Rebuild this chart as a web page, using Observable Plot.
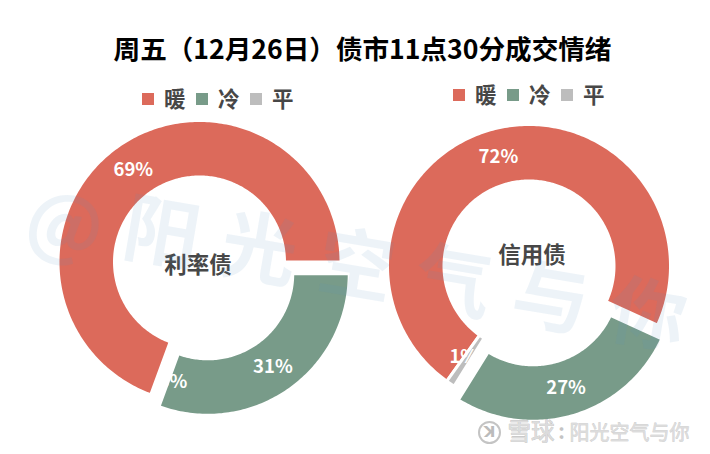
<!DOCTYPE html>
<html><head><meta charset="utf-8">
<script src="https://cdn.jsdelivr.net/npm/d3@7"></script>
<script src="https://cdn.jsdelivr.net/npm/@observablehq/plot@0.6"></script>
<style>
html,body{margin:0;padding:0;background:#fff;width:710px;height:454px;overflow:hidden}
#page{position:relative;width:710px;height:454px;font-family:"Noto Sans CJK SC","Noto Sans",sans-serif}
#title{position:absolute;left:0;top:29px;width:725px;text-align:center;font-size:26.6px;line-height:38px;font-weight:700;color:#000;white-space:nowrap;z-index:2}
.legend{position:absolute;display:flex;align-items:center;font-weight:700;font-size:21.5px;line-height:24px;color:#474747;z-index:2}
.legend i{display:block;width:12px;height:12px;margin-right:10px}
.legend span{display:block;width:21px;margin-right:11px;margin-top:-2px}
svg{position:absolute;left:0;top:0;background:transparent}
</style></head><body><div id="page"><div id="title"></div></div>
<script>
const chartTitle = "周五（12月26日）债市11点30分成交情绪";
const categories = ["暖", "冷", "平"];
const colors = ["#DC6A5B", "#789B89", "#BDBDBD"];
const rateName = "利率债";
const rateShares = [69.4, 30.6, 0];
const creditName = "信用债";
const creditShares = [72, 27, 1];
const watermark = ["@", "阳", "光", "空", "气", "与", "你"];
const creditBrand = "雪球";
const creditColon = ":";
const creditAuthor = "阳光空气与你";

const OUTER = 141.5, INNER = 85, LABEL_R = 113, EXPLODE = 14.4;
const rad = d => d * Math.PI / 180;

// Turn shares into clockwise slices, starting at startAngle (degrees from 12 o'clock).
function slices(name, shares, cx, cy, startAngle) {
  let a = startAngle;
  return shares.map((v, i) => {
    const a0 = a, a1 = a + v * 3.6;
    a = a1;
    const mid = (a0 + a1) / 2;
    const off = categories[i] === "冷" ? EXPLODE : 0;
    return {name, cat: categories[i], share: v, a0, a1, mid,
      cx: cx + off * Math.sin(rad(mid)), cy: cy - off * Math.cos(rad(mid))};
  });
}
function ringPoints(s) {
  const n = Math.max(1, Math.ceil(s.a1 - s.a0));
  return d3.range(n + 1).map(k => {
    const t = rad(s.a0 + (s.a1 - s.a0) * k / n);
    return {key: s.name + s.cat, cat: s.cat,
      ox: s.cx + OUTER * Math.sin(t), oy: s.cy - OUTER * Math.cos(t),
      ix: s.cx + INNER * Math.sin(t), iy: s.cy - INNER * Math.cos(t)};
  });
}
const rate = slices(rateName, rateShares, 199.5, 262, 200.16);
const cred = slices(creditName, creditShares, 529, 266, 215.5);
const all = [...rate, ...cred];
const pts = all.filter(s => s.share > 0).flatMap(ringPoints);
const lab = s => ({x: s.cx + LABEL_R * Math.sin(rad(s.mid)), y: s.cy - LABEL_R * Math.cos(rad(s.mid)), text: Math.round(s.share) + "%", share: s.share});
const big = all.filter(s => s.share >= 50).map(lab);
const mid = all.filter(s => s.share >= 5 && s.share < 50).map(lab);
const tiny = all.filter(s => s.share < 5).map(s => ({...lab(s), zero: s.share === 0}));
const FONT = '"Noto Sans CJK SC","Noto Sans",sans-serif';
const labelStyle = {x: "x", y: "y", text: "text", fill: "#fff", fontSize: 18.5, fontWeight: 700, fontFamily: FONT};

const chart = Plot.plot({
  width: 710, height: 454, margin: 0,
  x: {domain: [0, 710], range: [0, 710], axis: null},
  y: {domain: [0, 454], range: [0, 454], axis: null},
  color: {domain: categories, range: colors},
  marks: [
    Plot.area(pts, {x1: "ox", y1: "oy", x2: "ix", y2: "iy", z: "key", fill: "cat", stroke: "#fff", strokeWidth: 3, curve: "linear"}),
    Plot.text(big, {...labelStyle, dx: -2}),
    Plot.text(mid, labelStyle),
    Plot.text(tiny.filter(d => d.zero), {...labelStyle, dx: 12, dy: 14}),
    Plot.text(tiny.filter(d => !d.zero), {...labelStyle, dx: -3, dy: -3}),
    Plot.text([rate[0]], {x: d => 197.5, y: d => 265, text: "name", fill: "#474747", fontSize: 22.5, fontWeight: 700, fontFamily: FONT}),
    Plot.text([cred[0]], {x: d => 531.5, y: d => 255, text: "name", fill: "#474747", fontSize: 22.5, fontWeight: 700, fontFamily: FONT}),
    Plot.text(watermark, {x: (d, i) => 161 + 97.2 * (i - 1), y: (d, i) => 235 + 16.4 * (i - 1) + (i === 0 ? 8 : 0), text: d => d, rotate: 9.6, fill: "#5b8fc0", fillOpacity: 0.11, fontSize: 76, fontWeight: 700, fontFamily: FONT}),
    Plot.dot([creditBrand], {x: d => 489, y: d => 432, r: 10.5, stroke: "#c4c4c4", strokeWidth: 2}),
    Plot.text([creditBrand], {x: d => 489, y: d => 432, text: d => "ꓘ", fill: "#bbb", fontSize: 15, fontWeight: 700, fontFamily: "DejaVu Sans"}),
    Plot.text([creditBrand], {x: d => 507, y: d => 432, text: d => d, textAnchor: "start", fill: "#dcdcdc", stroke: "#b8b8b8", strokeWidth: 0.6, fontSize: 23.5, fontFamily: FONT}),
    Plot.text([creditColon], {x: d => 561, y: d => 432, text: d => d, fill: "#c4c4c4", fontSize: 20, fontWeight: 700, fontFamily: FONT}),
    Plot.text([creditAuthor], {x: d => 689, y: d => 433, text: d => d, textAnchor: "end", fill: "#dcdcdc", stroke: "#bdbdbd", strokeWidth: 0.5, fontSize: 20, fontFamily: FONT})
  ]
});
const page = document.getElementById("page");
page.appendChild(chart);
document.getElementById("title").textContent = chartTitle;
function legend(left, top) {
  const el = document.createElement("div");
  el.className = "legend";
  el.style.left = left + "px"; el.style.top = top + "px";
  categories.forEach((c, i) => {
    const sw = document.createElement("i"); sw.style.background = colors[i];
    const t = document.createElement("span"); t.textContent = c;
    el.append(sw, t);
  });
  page.appendChild(el);
}
legend(142, 88);
legend(453, 84);
</script></body></html>
